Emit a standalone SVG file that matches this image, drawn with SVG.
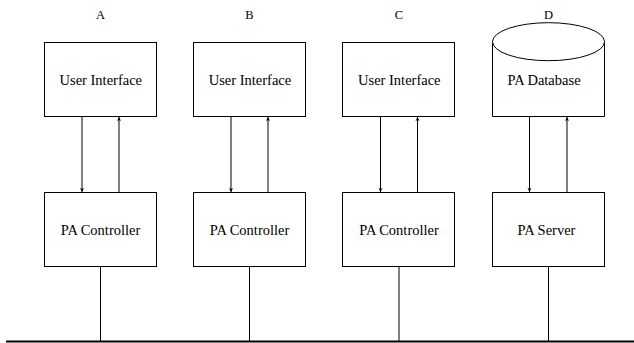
<svg xmlns="http://www.w3.org/2000/svg" width="634" height="343" viewBox="0 0 634 343">
<style>
.box{fill:#fff;stroke:#000;stroke-width:1}
.lbl{font-family:"Liberation Serif","Times New Roman",serif;font-size:14.5px;text-anchor:middle;fill:#000}
.hdr{font-family:"Liberation Serif","Times New Roman",serif;font-size:12.5px;text-anchor:middle;fill:#000}
.ln{stroke:#000;stroke-width:1;fill:none}
</style>
<defs>
<marker id="ah" viewBox="0 0 4 8" refX="4" refY="4" markerWidth="4" markerHeight="8" markerUnits="userSpaceOnUse" orient="auto">
<path d="M0,2 L4,4 L0,6 L1,4 Z" fill="#000"/>
</marker>
</defs>
<rect width="634" height="343" fill="#fff"/>
<g id="labels">
<text class="hdr" x="100.5" y="18.5">A</text>
<text class="hdr" x="249.5" y="18.5">B</text>
<text class="hdr" x="399" y="18.5">C</text>
<text class="hdr" x="548.5" y="18.5">D</text>
</g>
<g id="ui-a"><rect class="box" x="44.5" y="42.5" width="112" height="74"/><text class="lbl" x="100.8" y="84.5">User Interface</text></g>
<g id="ui-b"><rect class="box" x="193.5" y="42.5" width="112" height="74"/><text class="lbl" x="250" y="84.5">User Interface</text></g>
<g id="ui-c"><rect class="box" x="342.5" y="42.5" width="112" height="74"/><text class="lbl" x="399.3" y="84.5">User Interface</text></g>
<g id="db-d">
<path class="box" d="M492.5,41.7 L492.5,116.5 L604.5,116.5 L604.5,41.7"/>
<ellipse class="box" cx="548.5" cy="41.7" rx="56" ry="19"/>
<text class="lbl" x="544" y="84.5">PA Database</text>
</g>
<g id="ctl-a"><rect class="box" x="44.5" y="192.5" width="112" height="74"/><text class="lbl" x="100.5" y="234.5">PA Controller</text></g>
<g id="ctl-b"><rect class="box" x="193.5" y="192.5" width="112" height="74"/><text class="lbl" x="249.5" y="234.5">PA Controller</text></g>
<g id="ctl-c"><rect class="box" x="342.5" y="192.5" width="112" height="74"/><text class="lbl" x="399" y="234.5">PA Controller</text></g>
<g id="srv-d"><rect class="box" x="492.5" y="192.5" width="112" height="74"/><text class="lbl" x="546.5" y="234.5">PA Server</text></g>
<g id="connectors">
<line class="ln" x1="82" y1="117" x2="82" y2="192" marker-end="url(#ah)"/>
<line class="ln" x1="119" y1="192" x2="119" y2="117" marker-end="url(#ah)"/>
<line class="ln" x1="231" y1="117" x2="231" y2="192" marker-end="url(#ah)"/>
<line class="ln" x1="268" y1="192" x2="268" y2="117" marker-end="url(#ah)"/>
<line class="ln" x1="380.5" y1="117" x2="380.5" y2="192" marker-end="url(#ah)"/>
<line class="ln" x1="417.5" y1="192" x2="417.5" y2="117" marker-end="url(#ah)"/>
<line class="ln" x1="529.5" y1="117" x2="529.5" y2="192" marker-end="url(#ah)"/>
<line class="ln" x1="567" y1="192" x2="567" y2="117" marker-end="url(#ah)"/>
<line class="ln" x1="100.5" y1="267" x2="100.5" y2="341"/>
<line class="ln" x1="249.5" y1="267" x2="249.5" y2="341"/>
<line class="ln" x1="399" y1="267" x2="399" y2="341"/>
<line class="ln" x1="548.5" y1="267" x2="548.5" y2="341"/>
<line x1="6" y1="341.5" x2="634" y2="341.5" stroke="#000" stroke-width="2"/>
</g>
</svg>
